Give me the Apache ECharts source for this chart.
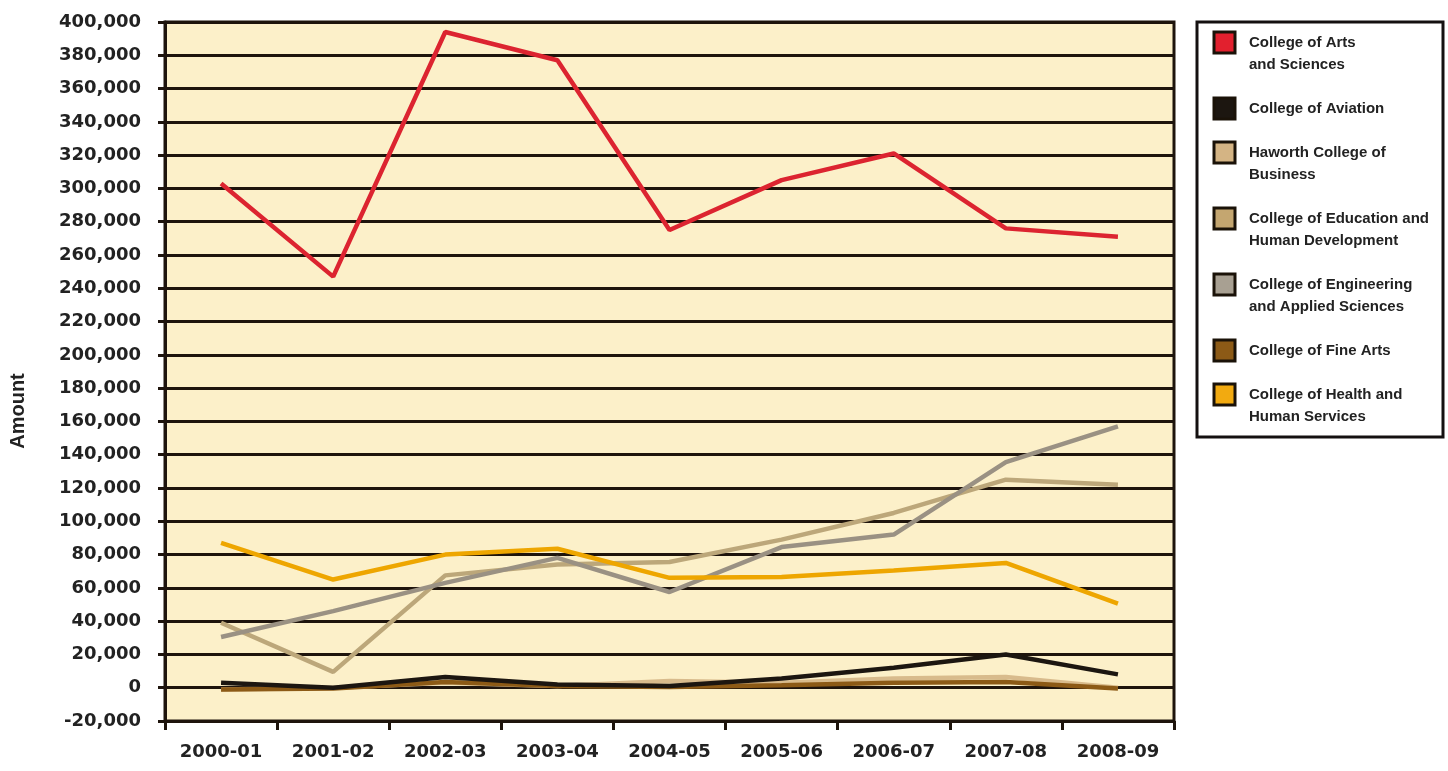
<!DOCTYPE html>
<html>
<head>
<meta charset="utf-8">
<script src="https://cdn.jsdelivr.net/npm/echarts@6/dist/echarts.min.js"></script>
<style>
  html, body { margin: 0; padding: 0; background: #fff; }
  #lines { width: 1448px; height: 771px; }
</style>
</head>
<body>
<div id="lines"></div>
<script>
// 学年
var years = ["2000-01", "2001-02", "2002-03", "2003-04", "2004-05", "2005-06", "2006-07", "2007-08", "2008-09"];

// 各学院金额
var artsSciences = [303000, 247000, 394000, 377000, 275000, 305000, 321000, 276000, 271000];
var aviation = [3000, 0, 6500, 2000, 1000, 5500, 12000, 20000, 8000];
var business = [-1000, 0, 3000, 1000, 4000, 3000, 5500, 6500, 0];
var education = [39000, 9500, 67500, 74000, 75500, 89000, 105000, 125000, 122000];
var engineering = [30500, 46000, 63000, 78000, 57500, 84500, 92000, 135500, 157000];
var fineArts = [-1000, -500, 3500, 1000, 500, 1500, 3000, 3500, -500];
var health = [87000, 65000, 80000, 83500, 66000, 66500, 70500, 75000, 50500];

// y轴刻度
var yMin = -20000;
var yMax = 400000;
var yStep = 20000;

var names = [
  "College of Arts\nand Sciences",
  "College of Aviation",
  "Haworth College of\nBusiness",
  "College of Education and\nHuman Development",
  "College of Engineering\nand Applied Sciences",
  "College of Fine Arts",
  "College of Health and\nHuman Services",
];
var values = [artsSciences, aviation, business, education, engineering, fineArts, health];
var colors = ["#dc2430", "#1c1610", "#d8bb8c", "#bca77a", "#9a9183", "#8c5a16", "#eea600"];
var swatchColors = ["#e2202e", "#1c1610", "#d4b484", "#c4a670", "#a8a092", "#8c5a16", "#f2aa10"];

var ink = "#1e140c";
var chart = echarts.init(document.getElementById("lines"));

// 图例 (手工画，方块对齐第一行)
var legendItems = [];
legendItems.push({
  type: "rect",
  shape: { x: 1197, y: 22, width: 246, height: 415 },
  style: { fill: "#fff", stroke: "#141010", lineWidth: 3 },
});
var lineY = 43;
names.forEach(function (n, i) {
  legendItems.push({
    type: "rect",
    shape: { x: 1214, y: lineY - 11, width: 21, height: 21 },
    style: { fill: swatchColors[i], stroke: "#1a1208", lineWidth: 3 },
  });
  legendItems.push({
    type: "text",
    x: 1249,
    y: lineY - 11,
    style: {
      text: n,
      fill: "#222",
      font: "bold 15px 'Liberation Sans', Arial",
      lineHeight: 22,
      textVerticalAlign: "top",
    },
  });
  var lines = n.split("\n").length;
  lineY += lines * 22 + 22;
});
legendItems.push({
  type: "text",
  x: 18,
  y: 411,
  rotation: Math.PI / 2,
  style: {
    text: "Amount",
    fill: "#222",
    font: "bold 20px 'Liberation Sans', Arial",
    textAlign: "center",
    textVerticalAlign: "middle",
  },
});

var option = {
  backgroundColor: "#fff",
  animation: false,
  grid: {
    left: 165,
    right: 274,
    top: 22,
    bottom: 50,
    show: true,
    backgroundColor: "#fcf0c9",
    borderColor: ink,
    borderWidth: 3,
  },
  graphic: legendItems,
  xAxis: {
    type: "category",
    data: years,
    boundaryGap: true,
    axisLine: { onZero: false, lineStyle: { color: ink, width: 3 } },
    axisTick: { show: true, length: 9, lineStyle: { color: ink, width: 3 } },
    axisLabel: {
      margin: 22,
      color: "#222",
      fontFamily: "DejaVu Sans",
      fontWeight: "bold",
      fontSize: 18,
      interval: 0,
    },
    splitLine: { show: false },
  },
  yAxis: {
    type: "value",
    min: yMin,
    max: yMax,
    interval: yStep,
    axisLine: { show: true, lineStyle: { color: ink, width: 3 } },
    axisTick: { show: true, length: 7, lineStyle: { color: ink, width: 3 } },
    axisLabel: {
      margin: 24,
      color: "#222",
      fontFamily: "DejaVu Sans",
      fontWeight: "bold",
      fontSize: 18,
      formatter: function (v) {
        return v.toLocaleString("en-US");
      },
    },
    splitLine: { show: true, lineStyle: { color: ink, width: 3 } },
  },
  series: names.map(function (n, i) {
    return {
      name: n,
      type: "line",
      data: values[i],
      showSymbol: false,
      z: i === 1 ? 5 : 3,
      lineStyle: { color: colors[i], width: 4.5 },
      itemStyle: { color: colors[i] },
    };
  }),
};
chart.setOption(option);
</script>
</body>
</html>
